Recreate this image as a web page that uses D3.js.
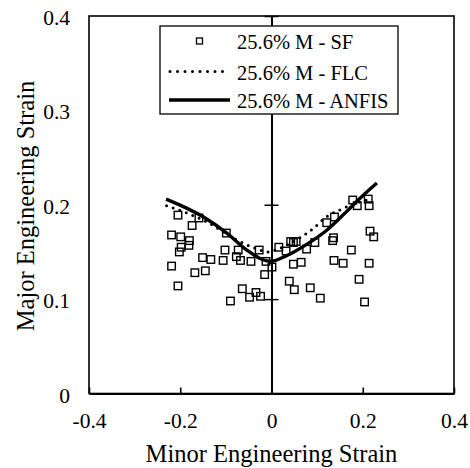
<!DOCTYPE html>
<html lang="en">
<head>
<meta charset="utf-8">
<script src="https://d3js.org/d3.v7.min.js"></script>
<style>
  body { margin: 0; background: #fff; }
  text { font-family: "Liberation Serif", "Times New Roman", serif; fill: #000; }
</style>
</head>
<body>
<script>
// scatter points (SF)
const sfMinor = [-0.205, -0.174, -0.219, -0.199, -0.180, -0.181, -0.198, -0.202, -0.219, -0.151,
                 -0.133, -0.168, -0.145, -0.205, -0.159, -0.099, -0.102, -0.106, -0.073, -0.077,
                 -0.068, -0.045, -0.027, -0.012, -0.015, -0.064, -0.048, -0.034, -0.024, -0.090,
                  0.001,  0.016,  0.032,  0.042,  0.048,  0.054,  0.048,  0.065,  0.077,  0.095,
                  0.121,  0.138,  0.134,  0.136,  0.137,  0.157,  0.175,  0.178,  0.188,  0.212,
                  0.214,  0.216,  0.224,  0.214,  0.192,  0.204,  0.039,  0.050,  0.085,  0.107];
const sfMajor = [0.189, 0.178, 0.168, 0.166, 0.162, 0.157, 0.155, 0.150, 0.135, 0.144,
                 0.142, 0.128, 0.130, 0.114, 0.186, 0.170, 0.152, 0.141, 0.152, 0.145,
                 0.141, 0.140, 0.152, 0.140, 0.126, 0.111, 0.102, 0.107, 0.103, 0.098,
                 0.134, 0.155, 0.151, 0.161, 0.160, 0.161, 0.137, 0.139, 0.153, 0.160,
                 0.181, 0.187, 0.162, 0.165, 0.141, 0.138, 0.152, 0.205, 0.199, 0.206,
                 0.199, 0.172, 0.166, 0.138, 0.121, 0.097, 0.119, 0.110, 0.112, 0.101];

// forming limit curve (dotted)
const flcMinor = [-0.230, -0.184, -0.139, -0.069, -0.036, -0.008, 0.008, 0.062, 0.092, 0.117, 0.157, 0.183, 0.220];
const flcMajor = [ 0.199,  0.191,  0.181,  0.161,  0.154,  0.150, 0.152, 0.165, 0.175, 0.186, 0.196, 0.2015, 0.206];

// ANFIS prediction (solid)
const anfisMinor = [-0.231, -0.149, -0.098, -0.054, -0.025, -0.002, 0.033, 0.077, 0.121, 0.165, 0.201, 0.231];
const anfisMajor = [ 0.206,  0.187,  0.170,  0.152,  0.143,  0.140, 0.146, 0.158, 0.173, 0.193, 0.210, 0.223];

const xTicks = [-0.4, -0.2, 0, 0.2, 0.4];
const yTicks = [0, 0.1, 0.2, 0.3, 0.4];
const legendLabels = ["25.6% M - SF", "25.6% M - FLC", "25.6% M - ANFIS"];

const W = 470, H = 468;
const margin = {left: 89, top: 16, right: 16, bottom: 74.5};
const w = W - margin.left - margin.right;
const h = H - margin.top - margin.bottom;

const svg = d3.select("body").append("svg")
    .attr("width", W).attr("height", H);

const g = svg.append("g")
    .attr("transform", "translate(" + margin.left + "," + margin.top + ")");

const x = d3.scaleLinear().domain([-0.4, 0.4]).range([0, w]);
const y = d3.scaleLinear().domain([0, 0.4]).range([h, 0]);

const fmt = d => d === 0 ? "0" : d.toFixed(1);

// plot frame
g.append("rect")
    .attr("width", w).attr("height", h)
    .attr("fill", "none").attr("stroke", "#000").attr("stroke-width", 1.6);

// bottom axis, ticks pointing inwards
const xAxis = g.append("g")
    .attr("transform", "translate(0," + h + ")")
    .call(d3.axisBottom(x).tickValues(xTicks).tickFormat(fmt).tickSizeInner(-6).tickSizeOuter(0).tickPadding(19));
xAxis.select(".domain").attr("stroke-width", 2.2);
xAxis.selectAll("line").attr("stroke-width", 1.6);
xAxis.selectAll("text").attr("font-size", 21.5).attr("font-family", "Liberation Serif");

// left labels only
const yAxis = g.append("g")
    .call(d3.axisLeft(y).tickValues(yTicks).tickFormat(fmt).tickSize(0).tickPadding(19));
yAxis.select(".domain").remove();
yAxis.selectAll("text").attr("font-size", 21.5).attr("font-family", "Liberation Serif").attr("dy", "0.4em");

// centre vertical axis with cross ticks
const cAxisL = g.append("g")
    .attr("transform", "translate(" + x(0) + ",0)")
    .call(d3.axisLeft(y).tickValues(yTicks.slice(1)).tickFormat("").tickSizeInner(7).tickSizeOuter(0));
const cAxisR = g.append("g")
    .attr("transform", "translate(" + x(0) + ",0)")
    .call(d3.axisRight(y).tickValues(yTicks.slice(1)).tickFormat("").tickSizeInner(7).tickSizeOuter(0));
cAxisL.select(".domain").attr("stroke-width", 2);
cAxisR.select(".domain").remove();
g.selectAll("line").filter(function() { return this.parentNode.parentNode !== xAxis.node(); })
    .attr("stroke-width", 1.5);

// SF squares
const sf = sfMinor.map((v, i) => ({x: v, y: sfMajor[i]}));
const sq = 7.5;
g.append("g").selectAll("rect")
    .data(sf).join("rect")
    .attr("x", d => x(d.x) - sq / 2)
    .attr("y", d => y(d.y) - sq / 2)
    .attr("width", sq).attr("height", sq)
    .attr("fill", "none").attr("stroke", "#000").attr("stroke-width", 1.4);

// FLC dotted
const flc = flcMinor.map((v, i) => ({x: v, y: flcMajor[i]}));
const line = d3.line().x(d => x(d.x)).y(d => y(d.y)).curve(d3.curveMonotoneX);
g.append("path")
    .datum(flc)
    .attr("d", line)
    .attr("fill", "none").attr("stroke", "#000")
    .attr("stroke-width", 3).attr("stroke-linecap", "round")
    .attr("stroke-dasharray", "0,7");

// ANFIS solid
const anfis = anfisMinor.map((v, i) => ({x: v, y: anfisMajor[i]}));
g.append("path")
    .datum(anfis)
    .attr("d", line)
    .attr("fill", "none").attr("stroke", "#000")
    .attr("stroke-width", 3.4);

// legend
const lg = svg.append("g").attr("transform", "translate(160,26)");
lg.append("rect")
    .attr("width", 238).attr("height", 88)
    .attr("fill", "#fff").attr("stroke", "#000").attr("stroke-width", 1.3);
const rows = [15, 45.5, 74];
lg.append("rect")
    .attr("x", 39.5 - 3).attr("y", rows[0] - 3)
    .attr("width", 6).attr("height", 6)
    .attr("fill", "none").attr("stroke", "#000").attr("stroke-width", 1.3);
lg.append("line")
    .attr("x1", 10).attr("x2", 70).attr("y1", rows[1]).attr("y2", rows[1])
    .attr("stroke", "#000").attr("stroke-width", 3).attr("stroke-linecap", "round")
    .attr("stroke-dasharray", "0,7.5");
lg.append("line")
    .attr("x1", 9).attr("x2", 70).attr("y1", rows[2]).attr("y2", rows[2])
    .attr("stroke", "#000").attr("stroke-width", 3.4);
lg.selectAll("text.lab")
    .data(legendLabels).join("text")
    .attr("class", "lab")
    .attr("x", 77)
    .attr("y", (d, i) => rows[i] + 8)
    .attr("font-size", 20.5)
    .text(d => d);

// axis titles
svg.append("text")
    .attr("x", margin.left + x(0)).attr("y", 462)
    .attr("text-anchor", "middle")
    .attr("font-size", 24.5)
    .text("Minor Engineering Strain");
svg.append("text")
    .attr("transform", "translate(34,206) rotate(-90)")
    .attr("text-anchor", "middle")
    .attr("font-size", 24.5)
    .text("Major Engineering Strain");
</script>
</body>
</html>
